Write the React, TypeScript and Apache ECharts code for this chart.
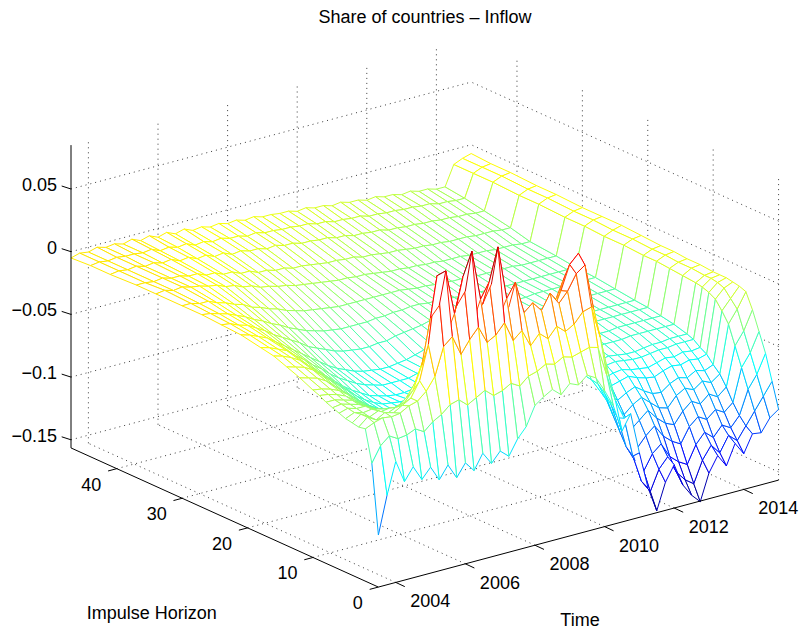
import { useEffect, useRef } from 'react';
import * as echarts from 'echarts';

// sample dates (quarterly) and impulse horizons of the mesh
const times = [
  2003.5, 2003.75, 2004, 2004.25, 2004.5, 2004.75, 2005, 2005.25,
  2005.5, 2005.75, 2006, 2006.25, 2006.5, 2006.75, 2007, 2007.25,
  2007.5, 2007.75, 2008, 2008.25, 2008.5, 2008.75, 2009, 2009.25,
  2009.5, 2009.75, 2010, 2010.25, 2010.5, 2010.75, 2011, 2011.25,
  2011.5, 2011.75, 2012, 2012.25, 2012.5, 2012.75, 2013, 2013.25,
  2013.5, 2013.75, 2014, 2014.25, 2014.5, 2014.75, 2015,
];
const horizons = [0, 1, 2, 3, 4, 5, 6, 7, 8, 9, 10, 12, 14, 16, 18, 21, 24, 27, 30, 34, 37, 41, 44, 47];

// response per horizon, one value per date
const zH0 = [
  -0.115, -0.085, -0.06, -0.078, -0.068, -0.08, -0.072, -0.084,
  -0.074, -0.086, -0.076, -0.084, -0.072, -0.082, -0.074, -0.08,
  -0.068, -0.06, -0.045, -0.04, -0.036, -0.042, -0.035, -0.038,
  -0.032, -0.036, -0.048, -0.062, -0.084, -0.072, -0.105, -0.135,
  -0.155, -0.134, -0.122, -0.14, -0.15, -0.157, -0.136, -0.124,
  -0.134, -0.118, -0.128, -0.114, -0.115, -0.105, -0.1,
];
const zH1 = [
  -0.06, -0.048, -0.042, -0.046, -0.045, -0.042, -0.046, -0.04,
  -0.036, -0.03, -0.028, -0.034, -0.03, -0.026, -0.032, -0.03,
  -0.026, -0.03, -0.024, -0.022, -0.018, -0.02, -0.016, -0.018,
  -0.016, -0.014, -0.016, -0.04, -0.062, -0.078, -0.11, -0.132,
  -0.142, -0.126, -0.118, -0.132, -0.14, -0.145, -0.128, -0.118,
  -0.126, -0.114, -0.12, -0.11, -0.1, -0.09, -0.08,
];
const zH2 = [
  -0.035, -0.032, -0.03, -0.031, -0.03, -0.026, -0.024, -0.018,
  -0.008, 0.014, 0.02, 0.004, 0.014, 0.022, 0.008, 0.012,
  0.02, 0.004, 0.01, -0.004, 0.004, -0.002, 0.006, 0.0,
  0.004, 0.012, 0.014, -0.012, -0.045, -0.08, -0.105, -0.118,
  -0.128, -0.116, -0.11, -0.122, -0.128, -0.132, -0.118, -0.11,
  -0.116, -0.108, -0.112, -0.104, -0.085, -0.075, -0.06,
];
const zH3 = [
  -0.036, -0.03, -0.034, -0.03, -0.032, -0.028, -0.024, -0.012,
  0.015, 0.068, 0.07, 0.034, 0.062, 0.08, 0.04, 0.052,
  0.078, 0.035, 0.046, 0.02, 0.026, 0.018, 0.03, 0.02,
  0.028, 0.04, 0.045, 0.008, -0.03, -0.072, -0.095, -0.104,
  -0.112, -0.104, -0.098, -0.108, -0.114, -0.118, -0.106, -0.1,
  -0.104, -0.098, -0.102, -0.096, -0.07, -0.06, -0.045,
];
const zH4 = [
  -0.035, -0.03, -0.034, -0.031, -0.035, -0.032, -0.03, -0.022,
  -0.004, 0.032, 0.04, 0.018, 0.036, 0.046, 0.022, 0.032,
  0.046, 0.02, 0.024, 0.01, 0.014, 0.008, 0.016, 0.01,
  0.026, 0.045, 0.052, 0.016, -0.03, -0.065, -0.085, -0.092,
  -0.1, -0.094, -0.088, -0.096, -0.102, -0.105, -0.096, -0.09,
  -0.094, -0.088, -0.092, -0.086, -0.055, -0.045, -0.03,
];
const zH5 = [
  -0.034, -0.031, -0.033, -0.032, -0.036, -0.035, -0.036, -0.03,
  -0.02, -0.002, 0.004, -0.008, 0.006, 0.012, -0.004, 0.004,
  0.012, -0.006, -0.002, -0.008, -0.004, -0.007, -0.002, -0.004,
  0.008, 0.03, 0.034, 0.002, -0.035, -0.06, -0.075, -0.082,
  -0.09, -0.084, -0.08, -0.086, -0.092, -0.094, -0.086, -0.082,
  -0.085, -0.08, -0.083, -0.078, -0.04, -0.03, -0.018,
];
const zH6 = [
  -0.032, -0.03, -0.032, -0.032, -0.036, -0.038, -0.04, -0.038,
  -0.033, -0.022, -0.018, -0.026, -0.016, -0.011, -0.022, -0.016,
  -0.01, -0.022, -0.018, -0.02, -0.017, -0.019, -0.015, -0.015,
  -0.005, 0.014, 0.016, -0.012, -0.04, -0.059, -0.07, -0.075,
  -0.081, -0.077, -0.074, -0.079, -0.083, -0.084, -0.079, -0.076,
  -0.078, -0.074, -0.076, -0.073, -0.032, -0.024, -0.016,
];
const zH7 = [
  -0.03, -0.029, -0.031, -0.033, -0.037, -0.04, -0.044, -0.046,
  -0.045, -0.04, -0.038, -0.042, -0.036, -0.032, -0.038, -0.035,
  -0.03, -0.036, -0.034, -0.032, -0.03, -0.031, -0.028, -0.026,
  -0.018, -0.004, -0.002, -0.025, -0.045, -0.058, -0.064, -0.068,
  -0.072, -0.07, -0.068, -0.071, -0.073, -0.074, -0.071, -0.069,
  -0.07, -0.068, -0.069, -0.067, -0.025, -0.018, -0.015,
];
const zH8 = [
  -0.028, -0.028, -0.03, -0.032, -0.037, -0.041, -0.045, -0.049,
  -0.05, -0.048, -0.048, -0.05, -0.047, -0.044, -0.047, -0.045,
  -0.042, -0.045, -0.044, -0.042, -0.04, -0.04, -0.038, -0.036,
  -0.03, -0.02, -0.019, -0.035, -0.049, -0.058, -0.062, -0.065,
  -0.068, -0.066, -0.065, -0.067, -0.068, -0.069, -0.067, -0.065,
  -0.066, -0.064, -0.065, -0.064, -0.022, -0.016, -0.014,
];
const zH9 = [
  -0.025, -0.026, -0.028, -0.031, -0.036, -0.041, -0.046, -0.051,
  -0.055, -0.056, -0.057, -0.058, -0.057, -0.056, -0.056, -0.055,
  -0.054, -0.054, -0.053, -0.052, -0.05, -0.049, -0.048, -0.046,
  -0.042, -0.036, -0.036, -0.045, -0.052, -0.057, -0.06, -0.062,
  -0.063, -0.062, -0.061, -0.062, -0.063, -0.063, -0.062, -0.061,
  -0.061, -0.06, -0.06, -0.06, -0.02, -0.015, -0.014,
];
const zH10 = [
  -0.023, -0.024, -0.026, -0.029, -0.034, -0.04, -0.045, -0.051,
  -0.055, -0.057, -0.059, -0.06, -0.06, -0.059, -0.059, -0.058,
  -0.057, -0.057, -0.056, -0.055, -0.053, -0.052, -0.051, -0.049,
  -0.046, -0.041, -0.041, -0.048, -0.053, -0.057, -0.059, -0.06,
  -0.061, -0.06, -0.059, -0.06, -0.061, -0.061, -0.06, -0.059,
  -0.059, -0.058, -0.058, -0.058, -0.019, -0.015, -0.014,
];
const zH12 = [
  -0.018, -0.02, -0.022, -0.026, -0.032, -0.038, -0.044, -0.05,
  -0.055, -0.059, -0.063, -0.065, -0.066, -0.066, -0.065, -0.064,
  -0.063, -0.062, -0.061, -0.06, -0.058, -0.057, -0.056, -0.055,
  -0.054, -0.052, -0.051, -0.053, -0.055, -0.056, -0.056, -0.057,
  -0.057, -0.056, -0.056, -0.056, -0.056, -0.056, -0.055, -0.055,
  -0.055, -0.055, -0.055, -0.055, -0.018, -0.014, -0.013,
];
const zH14 = [
  -0.014, -0.016, -0.018, -0.022, -0.028, -0.034, -0.04, -0.046,
  -0.052, -0.057, -0.061, -0.064, -0.065, -0.066, -0.066, -0.066,
  -0.065, -0.064, -0.062, -0.061, -0.059, -0.057, -0.056, -0.055,
  -0.054, -0.053, -0.052, -0.053, -0.054, -0.054, -0.054, -0.055,
  -0.055, -0.054, -0.054, -0.054, -0.054, -0.054, -0.053, -0.053,
  -0.053, -0.053, -0.053, -0.053, -0.017, -0.014, -0.013,
];
const zH16 = [
  -0.01, -0.012, -0.015, -0.019, -0.025, -0.031, -0.037, -0.043,
  -0.049, -0.054, -0.058, -0.062, -0.064, -0.066, -0.067, -0.067,
  -0.066, -0.065, -0.063, -0.061, -0.059, -0.057, -0.056, -0.055,
  -0.054, -0.053, -0.053, -0.053, -0.053, -0.052, -0.052, -0.052,
  -0.052, -0.051, -0.051, -0.051, -0.051, -0.051, -0.051, -0.051,
  -0.051, -0.051, -0.051, -0.051, -0.016, -0.013, -0.012,
];
const zH18 = [
  -0.008, -0.01, -0.013, -0.016, -0.022, -0.027, -0.033, -0.038,
  -0.044, -0.049, -0.053, -0.057, -0.06, -0.062, -0.064, -0.064,
  -0.064, -0.064, -0.062, -0.061, -0.059, -0.057, -0.055, -0.054,
  -0.052, -0.051, -0.051, -0.051, -0.051, -0.051, -0.051, -0.051,
  -0.051, -0.05, -0.05, -0.05, -0.05, -0.05, -0.05, -0.05,
  -0.05, -0.05, -0.05, -0.05, -0.016, -0.013, -0.012,
];
const zH21 = [
  -0.005, -0.007, -0.01, -0.013, -0.018, -0.023, -0.028, -0.033,
  -0.038, -0.043, -0.048, -0.052, -0.055, -0.058, -0.06, -0.061,
  -0.062, -0.062, -0.061, -0.06, -0.058, -0.056, -0.054, -0.052,
  -0.05, -0.049, -0.049, -0.049, -0.049, -0.049, -0.049, -0.049,
  -0.049, -0.049, -0.048, -0.048, -0.048, -0.048, -0.048, -0.048,
  -0.048, -0.048, -0.048, -0.048, -0.015, -0.012, -0.011,
];
const zH24 = [
  -0.004, -0.005, -0.008, -0.01, -0.014, -0.018, -0.023, -0.027,
  -0.031, -0.035, -0.04, -0.043, -0.046, -0.049, -0.051, -0.052,
  -0.053, -0.053, -0.052, -0.052, -0.05, -0.049, -0.048, -0.047,
  -0.045, -0.045, -0.045, -0.045, -0.046, -0.046, -0.046, -0.046,
  -0.046, -0.047, -0.047, -0.047, -0.046, -0.046, -0.046, -0.046,
  -0.046, -0.046, -0.046, -0.046, -0.015, -0.012, -0.01,
];
const zH27 = [
  -0.003, -0.004, -0.006, -0.008, -0.011, -0.014, -0.018, -0.021,
  -0.025, -0.028, -0.032, -0.035, -0.038, -0.04, -0.042, -0.043,
  -0.044, -0.044, -0.044, -0.044, -0.043, -0.043, -0.042, -0.042,
  -0.041, -0.041, -0.042, -0.042, -0.043, -0.043, -0.044, -0.044,
  -0.044, -0.045, -0.045, -0.045, -0.045, -0.045, -0.045, -0.045,
  -0.045, -0.045, -0.045, -0.045, -0.014, -0.011, -0.01,
];
const zH30 = [
  -0.003, -0.003, -0.005, -0.005, -0.008, -0.01, -0.013, -0.015,
  -0.019, -0.021, -0.024, -0.026, -0.029, -0.031, -0.033, -0.034,
  -0.035, -0.036, -0.037, -0.037, -0.037, -0.037, -0.037, -0.037,
  -0.037, -0.037, -0.038, -0.039, -0.039, -0.04, -0.04, -0.041,
  -0.041, -0.042, -0.042, -0.042, -0.042, -0.042, -0.042, -0.043,
  -0.043, -0.043, -0.043, -0.043, -0.014, -0.011, -0.01,
];
const zH34 = [
  -0.003, -0.002, -0.004, -0.003, -0.005, -0.006, -0.008, -0.009,
  -0.012, -0.013, -0.016, -0.017, -0.02, -0.021, -0.023, -0.024,
  -0.026, -0.027, -0.028, -0.029, -0.03, -0.031, -0.031, -0.032,
  -0.032, -0.033, -0.034, -0.035, -0.035, -0.036, -0.036, -0.037,
  -0.037, -0.038, -0.038, -0.038, -0.039, -0.039, -0.039, -0.04,
  -0.04, -0.04, -0.041, -0.041, -0.013, -0.01, -0.009,
];
const zH37 = [
  -0.003, -0.003, -0.004, -0.003, -0.005, -0.005, -0.007, -0.007,
  -0.01, -0.01, -0.013, -0.013, -0.016, -0.016, -0.019, -0.019,
  -0.021, -0.021, -0.023, -0.023, -0.024, -0.025, -0.026, -0.026,
  -0.027, -0.027, -0.029, -0.029, -0.03, -0.031, -0.031, -0.032,
  -0.033, -0.033, -0.034, -0.034, -0.035, -0.035, -0.035, -0.036,
  -0.036, -0.036, -0.037, -0.037, -0.013, -0.01, -0.009,
];
const zH41 = [
  -0.004, -0.003, -0.004, -0.003, -0.005, -0.004, -0.006, -0.005,
  -0.008, -0.007, -0.01, -0.009, -0.012, -0.011, -0.014, -0.013,
  -0.015, -0.015, -0.017, -0.016, -0.018, -0.018, -0.02, -0.02,
  -0.021, -0.021, -0.023, -0.023, -0.025, -0.025, -0.026, -0.026,
  -0.028, -0.028, -0.029, -0.029, -0.03, -0.03, -0.031, -0.031,
  -0.032, -0.032, -0.033, -0.033, -0.012, -0.009, -0.008,
];
const zH44 = [
  -0.004, -0.003, -0.004, -0.003, -0.004, -0.004, -0.005, -0.004,
  -0.007, -0.006, -0.008, -0.007, -0.01, -0.009, -0.011, -0.01,
  -0.012, -0.012, -0.014, -0.013, -0.015, -0.015, -0.016, -0.016,
  -0.017, -0.017, -0.019, -0.019, -0.021, -0.021, -0.022, -0.022,
  -0.024, -0.024, -0.025, -0.025, -0.026, -0.026, -0.027, -0.027,
  -0.029, -0.029, -0.03, -0.03, -0.012, -0.009, -0.008,
];
const zH47 = [
  -0.005, -0.003, -0.004, -0.002, -0.004, -0.003, -0.005, -0.003,
  -0.006, -0.004, -0.007, -0.005, -0.008, -0.006, -0.009, -0.008,
  -0.01, -0.009, -0.011, -0.01, -0.012, -0.011, -0.013, -0.013,
  -0.014, -0.014, -0.016, -0.015, -0.017, -0.017, -0.019, -0.018,
  -0.02, -0.02, -0.022, -0.021, -0.023, -0.023, -0.025, -0.024,
  -0.026, -0.026, -0.028, -0.028, -0.012, -0.009, -0.007,
];
const surface = [
  zH0, zH1, zH2, zH3, zH4, zH5, zH6, zH7, zH8, zH9, zH10, zH12,
  zH14, zH16, zH18, zH21, zH24, zH27, zH30, zH34, zH37, zH41, zH44, zH47,
];

const timeTicks = [2004, 2006, 2008, 2010, 2012, 2014];
const horizonTicks = [0, 10, 20, 30, 40];
const valueTicks = [0.05, 0, -0.05, -0.1, -0.15];
const valueLabels = ['0.05', '0', '\u22120.05', '\u22120.1', '\u22120.15'];
const zMin = -0.1565;
const zMax = 0.085;

const FONT = '"Liberation Sans", Arial, Helvetica, sans-serif';

// view: matlab default (az -37.5, el 30), stretched to the figure
const origin = [71, 251.7]; // first date, last horizon, value 0
const perYear = [34.8, -9.3];
const perStep = [6.54, 2.96]; // one horizon step towards the viewer
const perValue = -1254;

const tMin = times[0];
const tMax = times[times.length - 1];
const hMax = horizons[horizons.length - 1];

function project(t: number, h: number, z: number): number[] {
  const a = t - tMin;
  const b = hMax - h;
  return [
    origin[0] + a * perYear[0] + b * perStep[0],
    origin[1] + a * perYear[1] + b * perStep[1] + z * perValue,
  ];
}

// distance from the viewer, bigger = further away
function depth(t: number, h: number, z: number) {
  return 16.1 * (t - tMin) + 5.13 * h - 724 * z;
}

const allZ = surface.flat();
const cMin = Math.min(...allZ);
const cMax = Math.max(...allZ);

function jet(z: number) {
  const p = (z - cMin) / (cMax - cMin);
  const c = (v: number) => Math.round(255 * Math.max(0, Math.min(1, v)));
  return `rgb(${c(1.5 - Math.abs(4 * p - 3))},${c(1.5 - Math.abs(4 * p - 2))},${c(1.5 - Math.abs(4 * p - 1))})`;
}

// mesh cells, painted back to front
const cells: number[][] = [];
for (let i = 0; i < horizons.length - 1; i++) {
  for (let j = 0; j < times.length - 1; j++) {
    let d = 0;
    [[j, i], [j + 1, i], [j + 1, i + 1], [j, i + 1]].forEach(([jj, ii]) => {
      d += depth(times[jj], horizons[ii], surface[ii][jj]);
    });
    cells.push([j, i, d / 4]);
  }
}
cells.sort((p, q) => q[2] - p[2]);

// dotted grid on floor and back walls
const gridSegments: number[][] = [];
timeTicks.forEach(t => {
  gridSegments.push([t, 0, zMin, t, hMax, zMin]);
  gridSegments.push([t, hMax, zMin, t, hMax, zMax]);
});
horizonTicks.forEach(h => {
  if (h > 0) gridSegments.push([tMin, h, zMin, tMax, h, zMin]);
  gridSegments.push([tMax, h, zMin, tMax, h, zMax]);
});
valueTicks.forEach(z => {
  gridSegments.push([tMin, hMax, z, tMax, hMax, z]);
  gridSegments.push([tMax, 0, z, tMax, hMax, z]);
});

export default function App() {
  const chartRef = useRef<HTMLDivElement>(null);

  useEffect(() => {
    if (!chartRef.current) return;
    document.body.style.margin = '0';
    const chart = echarts.init(chartRef.current, undefined, { renderer: 'svg' });

    const option: any = {
      animation: false,
      backgroundColor: '#fff',
      title: {
        text: 'Share of countries \u2013 Inflow',
        left: 425,
        top: 8,
        padding: 0,
        textAlign: 'center',
        textStyle: { fontFamily: FONT, fontSize: 18, fontWeight: 'normal', color: '#000' },
      },
      grid: { left: 0, right: 0, top: 0, bottom: 0 },
      xAxis: { type: 'value', min: 0, max: 801, show: false },
      yAxis: { type: 'value', min: 0, max: 629, inverse: true, show: false },
      series: [
        {
          type: 'custom',
          name: 'grid',
          silent: true,
          clip: false,
          data: gridSegments,
          renderItem: (_params: any, api: any) => {
            const p = api.coord(project(api.value(0), api.value(1), api.value(2)));
            const q = api.coord(project(api.value(3), api.value(4), api.value(5)));
            return {
              type: 'line',
              shape: { x1: p[0], y1: p[1], x2: q[0], y2: q[1] },
              style: { stroke: '#3a3a3a', lineWidth: 1, lineDash: [1, 4] },
            };
          },
        },
        {
          type: 'custom',
          name: 'surface',
          silent: true,
          clip: false,
          data: cells.map(c => [c[0], c[1]]),
          renderItem: (_params: any, api: any) => {
            const j = api.value(0);
            const i = api.value(1);
            const corners = [[j, i], [j + 1, i], [j + 1, i + 1], [j, i + 1]];
            const pts = corners.map(([jj, ii]) => api.coord(project(times[jj], horizons[ii], surface[ii][jj])));
            const zs = corners.map(([jj, ii]) => surface[ii][jj]);
            const children: any[] = [
              { type: 'polygon', shape: { points: pts }, style: { fill: '#fff', stroke: 'none' } },
            ];
            for (let e = 0; e < 4; e++) {
              const n = (e + 1) % 4;
              children.push({
                type: 'line',
                shape: { x1: pts[e][0], y1: pts[e][1], x2: pts[n][0], y2: pts[n][1] },
                style: { stroke: jet((zs[e] + zs[n]) / 2), lineWidth: 1 },
              });
            }
            return { type: 'group', children };
          },
        },
        {
          type: 'custom',
          name: 'axes',
          silent: true,
          clip: false,
          data: [[0, 0]],
          renderItem: (_params: any, api: any) => {
            const children: any[] = [];
            const seg = (p: number[], q: number[]) =>
              children.push({
                type: 'line',
                shape: { x1: p[0], y1: p[1], x2: q[0], y2: q[1] },
                style: { stroke: '#000', lineWidth: 1 },
              });
            const label = (text: string, x: number, y: number, align: string) =>
              children.push({
                type: 'text',
                x,
                y,
                style: { text, fill: '#000', fontSize: 18, fontFamily: FONT, align, verticalAlign: 'middle' },
              });

            // value axis at the left corner
            const zTop = api.coord(project(tMin, hMax, zMax));
            const zBot = api.coord(project(tMin, hMax, zMin));
            seg(zTop, zBot);
            valueTicks.forEach((z, k) => {
              const p = api.coord(project(tMin, hMax, z));
              seg(p, [p[0] - 9.3, p[1] - 3]);
              label(valueLabels[k], p[0] - 14, p[1] - 4, 'right');
            });

            // horizon axis
            const front = api.coord(project(tMin, 0, zMin));
            seg(zBot, front);
            horizonTicks.forEach(h => {
              const p = api.coord(project(tMin, h, zMin));
              seg(p, [p[0] - 8.7, p[1] + 2.3]);
              label(String(h), p[0] - 15.5, p[1] + 16, 'right');
            });

            // time axis
            const right = api.coord(project(tMax, 0, zMin));
            seg(front, right);
            timeTicks.forEach(t => {
              const p = api.coord(project(t, 0, zMin));
              seg(p, [p[0] + 9, p[1] + 4.2]);
              label(String(t), p[0] + 34.5, p[1] + 19, 'center');
            });

            const hMid = [(zBot[0] + front[0]) / 2, (zBot[1] + front[1]) / 2];
            label('Impulse Horizon', hMid[0] - 73, hMid[1] + 95, 'center');
            const tMid = [(front[0] + right[0]) / 2, (front[1] + right[1]) / 2];
            label('Time', tMid[0] + 1.5, tMid[1] + 86, 'center');

            return { type: 'group', children };
          },
        },
      ],
    };

    chart.setOption(option);

    return () => {
      chart.dispose();
    };
  }, []);

  return <div ref={chartRef} style={{ width: 801, height: 629 }} />;
}
